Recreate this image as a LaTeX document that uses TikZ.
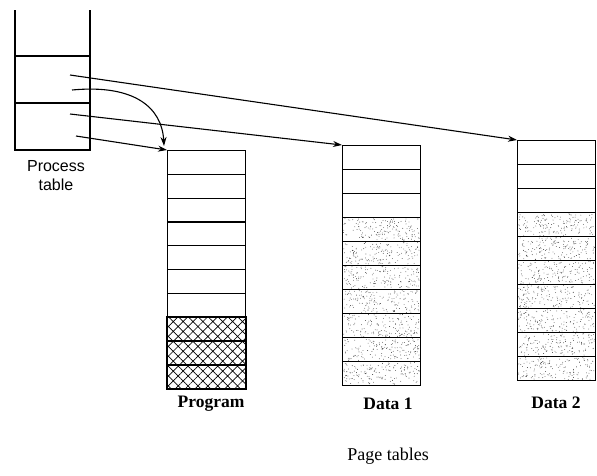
\documentclass[tikz,border=0pt]{standalone}
\usepackage{fontspec}
\setmainfont{Liberation Serif}
\newfontfamily\procfont{Liberation Sans}
\usetikzlibrary{arrows.meta,patterns.meta}
\tikzset{
  cell/.style={draw, line width=1.1pt, minimum width=78pt, inner sep=0pt, anchor=north west},
  pcell/.style={cell, minimum height=23.8pt},
  dcell/.style={cell, minimum height=24pt},
  hatched/.style={pattern={Hatch[angle=45,distance=7pt,line width=0.7pt]}},
  ptr/.style={line width=1.1pt, -{Stealth[length=9pt,width=6pt]}},
  lab/.style={font=\fontsize{17.5}{19}\selectfont\bfseries},
  outline/.style={line width=1.2pt}
}
\newcommand\stipplecell[1]{%
  \begin{scope}
    \clip (#1.south west) rectangle (#1.north east);
    \foreach \k in {1,...,150}{%
      \fill[black!75] (#1.center) ++({rand*38},{rand*11}) circle (0.42pt);}
  \end{scope}}
\begin{document}
\begin{tikzpicture}[x=1pt,y=-1pt]
\pgfmathsetseed{4711}
\useasboundingbox (0,0) rectangle (597,475);
% process table
\draw[outline] (15,10) -- (15,150) -- (90,150) -- (90,10);
\draw[outline] (15,56) -- (90,56);
\draw[outline] (15,103) -- (90,103);
\node[font=\procfont\fontsize{16}{19}\selectfont, align=center] (ptlabel) at (56,176) {Process\\table};
\coordinate (s1) at (70,75);
\coordinate (s2) at (72,90);
\coordinate (s3) at (70,114);
\coordinate (s4) at (76,136);
% program column
\foreach \i in {1,...,10}{
  \node[pcell] (p\i) at (167,{150+(\i-1)*23.8}) {};
}
\foreach \i in {8,9,10}{
  \fill[hatched] (p\i.south west) rectangle (p\i.north east);
  \draw[line width=1.1pt] (p\i.south west) rectangle (p\i.north east);
}
% data 1 column
\foreach \i in {1,...,10}{
  \node[dcell] (a\i) at (342,{145+(\i-1)*24}) {};
}
\foreach \i in {4,...,10}{ \stipplecell{a\i} }
% data 2 column
\foreach \i in {1,...,10}{
  \node[dcell] (b\i) at (517,{140+(\i-1)*24}) {};
}
\foreach \i in {4,...,10}{ \stipplecell{b\i} }
% labels
\node[lab] (lp) at (211,404) {Program};
\node[lab] (l1) at (388,404) {Data 1};
\node[lab] (l2) at (556,403) {Data 2};
\node[font=\fontsize{18}{20}\selectfont] (lpt) at (388,456) {Page tables};
% pointers
\draw[ptr] (s1) -- (b1.north west);
\draw[ptr] (s2) .. controls (135,84) and (162,108) .. ([xshift=-3pt,yshift=4pt]p1.north west);
\draw[ptr] (s3) -- (a1.north west);
\draw[ptr] (s4) -- (p1.north west);
\end{tikzpicture}
\end{document}
